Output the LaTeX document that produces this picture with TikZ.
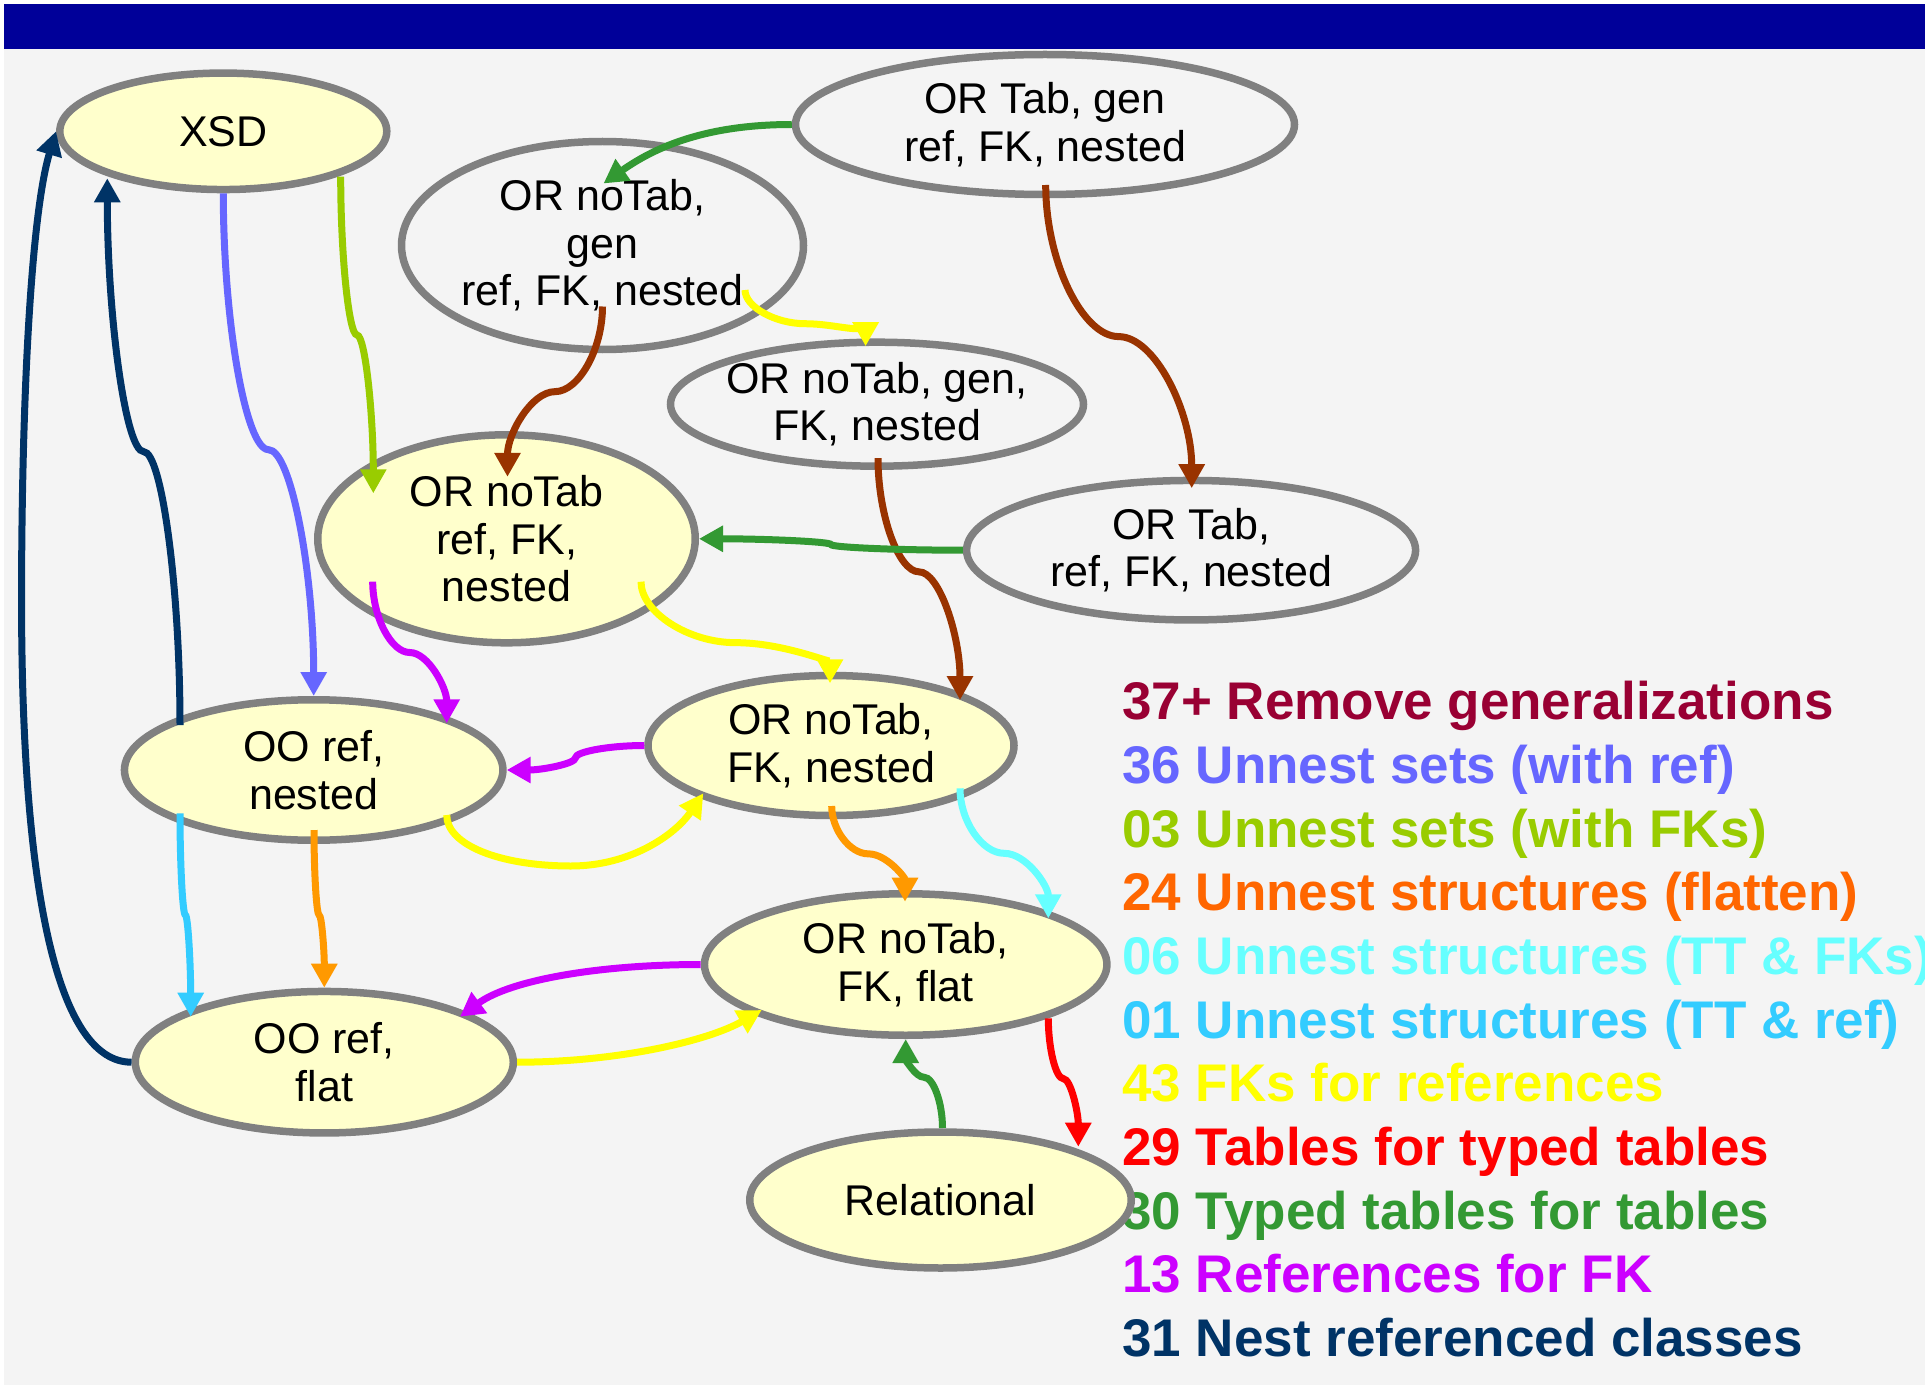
\documentclass[tikz,border=0pt]{standalone}
\usepackage{fontspec}
\setmainfont{Liberation Sans}
\usetikzlibrary{arrows.meta,calc,shapes.geometric}

\definecolor{pagebg}{HTML}{F4F4F4}
\definecolor{barblue}{HTML}{000099}
\definecolor{nodefill}{HTML}{FFFFCC}
\definecolor{nodeedge}{HTML}{808080}
\definecolor{cBrown}{HTML}{993300}
\definecolor{cCrimson}{HTML}{990033}
\definecolor{cBlue}{HTML}{6666FF}
\definecolor{cLime}{HTML}{99CC00}
\definecolor{cOrange}{HTML}{FF9900}
\definecolor{cOrangeTxt}{HTML}{FF6600}
\definecolor{cCyan}{HTML}{66FFFF}
\definecolor{cSky}{HTML}{33CCFF}
\definecolor{cYellow}{HTML}{FFFF00}
\definecolor{cRed}{HTML}{FF0000}
\definecolor{cGreen}{HTML}{339933}
\definecolor{cMagenta}{HTML}{CC00FF}
\definecolor{cNavy}{HTML}{003366}

\tikzset{
  stnode/.style={ellipse, draw=nodeedge, line width=7.5pt, inner sep=0pt},
  yelnode/.style={stnode, fill=nodefill},
  grynode/.style={stnode, fill=pagebg},
  nodetext/.style={align=center, inner sep=0pt, font=\fontsize{43}{47.5}\selectfont},
  legendline/.style={anchor=base west, inner sep=0pt, font=\bfseries\fontsize{53}{63.7}\selectfont},
  conn/.style={line width=7pt, draw=#1, -{Triangle[length=24pt,width=25pt]}},
  % S-shaped connector leaving and entering vertically
  vs/.style={to path={
    let \p1=(\tikztostart), \p2=(\tikztotarget), \n1={(#1)*((\y2)-(\y1))} in
    .. controls (\x1,{(\y1)+0.5*(\n1)}) and ({(\x1)+0.25*((\x2)-(\x1))},{(\y1)+(\n1)})
    .. ({0.5*((\x1)+(\x2))},{(\y1)+(\n1)})
    .. controls ({(\x1)+0.75*((\x2)-(\x1))},{(\y1)+(\n1)}) and (\x2,{0.5*((\y1)+(\y2)+(\n1))})
    .. (\tikztotarget)
  }},
  vs/.default=0.5,
  % S-shaped connector leaving and entering horizontally
  hs/.style={to path={
    let \p1=(\tikztostart), \p2=(\tikztotarget), \n1={(#1)*((\x2)-(\x1))} in
    .. controls ({(\x1)+0.5*(\n1)},\y1) and ({(\x1)+(\n1)},{(\y1)+0.25*((\y2)-(\y1))})
    .. ({(\x1)+(\n1)},{0.5*((\y1)+(\y2))})
    .. controls ({(\x1)+(\n1)},{(\y1)+0.75*((\y2)-(\y1))}) and ({0.5*((\x1)+(\x2)+(\n1))},\y2)
    .. (\tikztotarget)
  }},
  hs/.default=0.5,
}

\begin{document}
\begin{tikzpicture}[x=1pt,y=-1pt]
\useasboundingbox (0,0) rectangle (1925,1388);

% page background and title bar
\fill[white] (0,0) rectangle (1925,1388);
\fill[pagebg] (4,4) rectangle (1925,1385);
\fill[barblue] (4,4) rectangle (1925,49.5);

% legend of transformations
\node[legendline, text=cCrimson]   (lg37) at (1122,719.6)  {37+ Remove generalizations};
\node[legendline, text=cBlue]      (lg36) at (1122,783.3)  {36 Unnest sets (with ref)};
\node[legendline, text=cLime]      (lg03) at (1122,847.0)  {03 Unnest sets (with FKs)};
\node[legendline, text=cOrangeTxt] (lg24) at (1122,910.7)  {24 Unnest structures (flatten)};
\node[legendline, text=cCyan]      (lg06) at (1122,974.4)  {06 Unnest structures (TT \& FKs)};
\node[legendline, text=cSky]       (lg01) at (1122,1038.1) {01 Unnest structures (TT \& ref)};
\node[legendline, text=cYellow]    (lg43) at (1122,1101.8) {43 FKs for references};
\node[legendline, text=cRed]       (lg29) at (1122,1165.5) {29 Tables for typed tables};
\node[legendline, text=cGreen]     (lg30) at (1122,1229.2) {30 Typed tables for tables};
\node[legendline, text=cMagenta]   (lg13) at (1122,1292.9) {13 References for FK};
\node[legendline, text=cNavy]      (lg31) at (1122,1356.6) {31 Nest referenced classes};

% schema variants
\node[yelnode, minimum width=327pt,   minimum height=116.5pt] (xsd)   at (223.3,131.3)  {};
\node[grynode, minimum width=499pt,   minimum height=140pt]   (ortg)  at (1045,124.5)   {};
\node[grynode, minimum width=402pt,   minimum height=208pt]   (orng)  at (602.5,245.5)  {};
\node[grynode, minimum width=413pt,   minimum height=124pt]   (orgfk) at (877,404.2)    {};
\node[grynode, minimum width=449pt,   minimum height=139.5pt] (ortr)  at (1191.1,550.2) {};
\node[yelnode, minimum width=377.5pt, minimum height=208pt]   (ornr)  at (506.5,538.8)  {};
\node[yelnode, minimum width=378.5pt, minimum height=140.5pt] (oon)   at (313.7,770)    {};
\node[yelnode, minimum width=366pt,   minimum height=140pt]   (orfn)  at (831,745.5)    {};
\node[yelnode, minimum width=402.5pt, minimum height=141.5pt] (orff)  at (905.7,964.5)  {};
\node[yelnode, minimum width=378pt,   minimum height=141.5pt] (oof)   at (324.3,1062.2) {};
\node[yelnode, minimum width=381.5pt, minimum height=136pt]   (rel)   at (940.5,1200)   {};

\node[nodetext] (xsd-t)   at (xsd)   {XSD};
\node[nodetext] (ortg-t)  at (ortg)  {OR Tab, gen\\ref, FK, nested};
\node[nodetext] (orng-t)  at (orng)  {OR noTab,\\gen\\ref, FK, nested};
\node[nodetext] (orgfk-t) at (orgfk) {OR noTab, gen,\\FK, nested};
\node[nodetext] (ortr-t)  at (ortr)  {OR Tab,\\ref, FK, nested};
\node[nodetext] (ornr-t)  at (ornr)  {OR noTab\\ref, FK,\\nested};
\node[nodetext] (oon-t)   at (oon)   {OO ref,\\nested};
\node[nodetext] (orfn-t)  at (orfn)  {OR noTab,\\FK, nested};
\node[nodetext] (orff-t)  at (orff)  {OR noTab,\\FK, flat};
\node[nodetext] (oof-t)   at (oof)   {OO ref,\\flat};
\node[nodetext] (rel-t)   at (rel)   {Relational};

% 37+ remove generalizations
\draw[conn=cBrown] ($(ortg)+(0.7,60.5)$) to[vs] ($(ortr)+(0.6,-62)$);
\draw[conn=cBrown] ($(orng)+(0,61)$) to[vs] ($(ornr)+(1,-62)$);
\draw[conn=cBrown] ($(orgfk)+(1,54)$) to[vs=0.47] ($(orfn)+(129,-45.5)$);

% 36 / 03 unnest sets
\draw[conn=cBlue] (xsd.south) to[vs=0.51] (oon.north);
\draw[conn=cLime] ($(xsd)+(117.4,45.4)$) to[vs] ($(ornr)+(-133.2,-45.5)$);

% 24 / 06 / 01 unnest structures
\draw[conn=cOrange] ($(orfn)+(0.7,60.5)$) to[vs] ($(orff)+(-0.7,-62.8)$);
\draw[conn=cOrange] ($(oon)+(0.3,60)$) to[vs=0.54] (oof.north);
\draw[conn=cCyan] ($(orfn)+(129,42.8)$) to[vs] ($(orff)+(142.6,-46.2)$);
\draw[conn=cSky] ($(oon)+(-133.7,43.3)$) to[vs] ($(oof)+(-133.6,-45.5)$);

% 43 FKs for references
\draw[conn=cYellow] ($(orng)+(142.5,44.5)$) to[vs=0.6] ($(orgfk)+(-11.4,-58)$);
\draw[conn=cYellow] ($(ornr)+(134.5,42.9)$) to[vs=0.6] ($(orfn)+(-1,-62.2)$);
\draw[conn=cYellow] ($(oon)+(133,45)$) .. controls +(0,30) and +(-71,0) .. ($(oon)+(257.3,96)$)
  .. controls +(59,0) and +(-28.3,41.7) .. ($(orfn)+(-127.7,47.8)$);
\draw[conn=cYellow] (oof.east) .. controls +(103,0) and +(-51.7,30) .. ($(orff)+(-144,45.5)$);

% 29 tables for typed tables
\draw[conn=cRed] ($(orff)+(142.6,53.8)$) to[vs=0.47] ($(rel)+(137.8,-53.3)$);

% 30 typed tables for tables
\draw[conn=cGreen] (ortg.west) .. controls +(-92,0) and +(47,-33) .. ($(orng)+(1,-62)$);
\draw[conn=cGreen] (ortr.west) to[hs] (ornr.east);
\draw[conn=cGreen] ($(rel)+(2,-72)$) to[vs=0.57] (orff.south);

% 13 references for FK
\draw[conn=cMagenta] ($(ornr)+(-133.8,42.9)$) to[vs] ($(oon)+(133,-46.7)$);
\draw[conn=cMagenta] (orfn.west) to[hs] (oon.east);
\draw[conn=cMagenta] (orff.west) .. controls +(-101.7,0) and +(50,-36.7) .. ($(oof)+(135.7,-45.5)$);

% 31 nest referenced classes
\draw[conn=cNavy] ($(oon)+(-133.7,-45)$) to[vs] ($(xsd)+(-116,47)$);
\draw[conn=cNavy] (oof.west) .. controls +(-72,0) and +(0,300) .. ($(oof.west)+(-110,-462)$)
  .. controls +(0,-200) and +(-25,83) .. (xsd.west);

\end{tikzpicture}
\end{document}
